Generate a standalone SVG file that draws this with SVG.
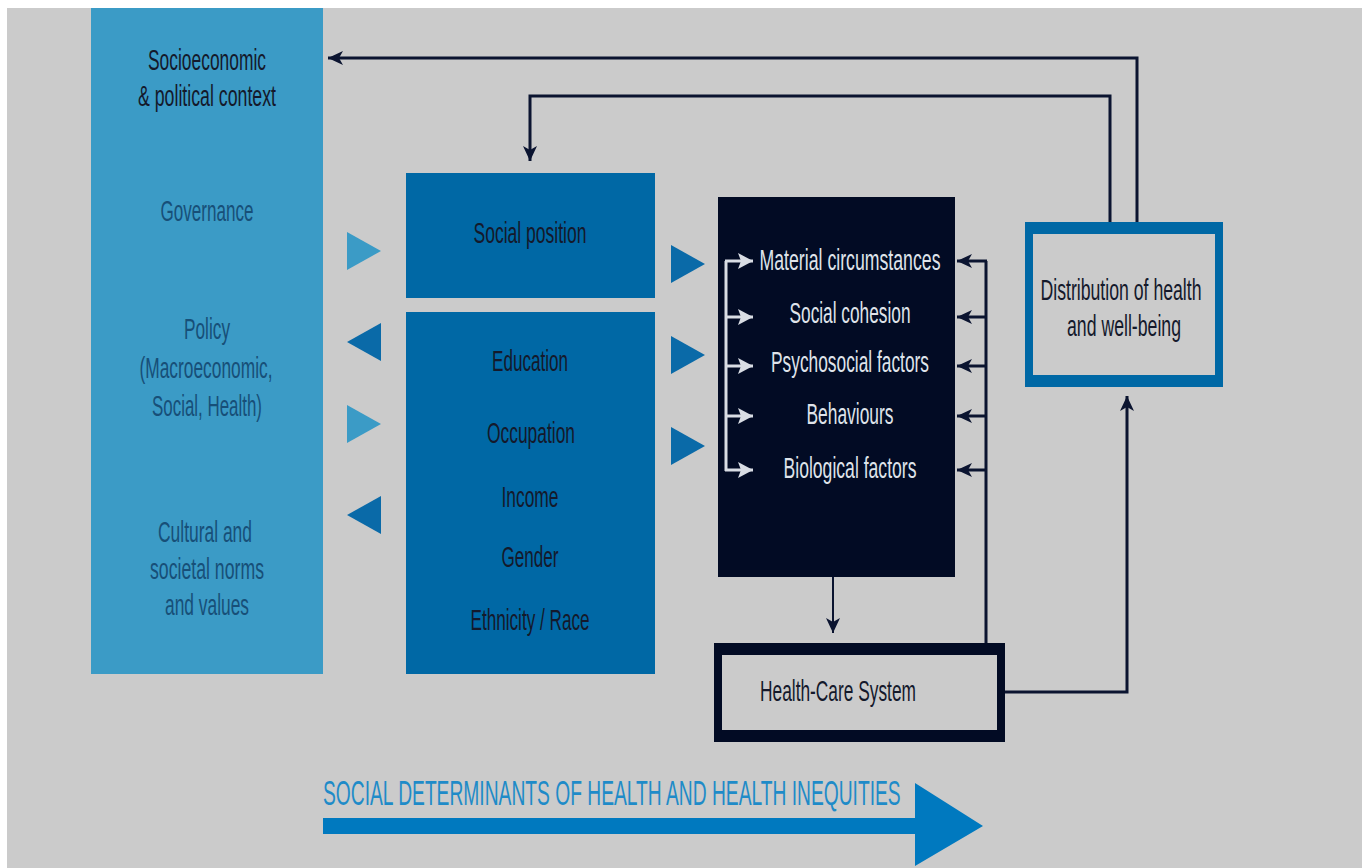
<svg xmlns="http://www.w3.org/2000/svg" width="1362" height="868" viewBox="0 0 1362 868">
<defs>
<style>
text{font-family:"Liberation Sans",Arial,sans-serif;font-size:29px;text-anchor:middle}
.dk{fill:#14192b}
.gv{fill:#174f78}
.wt{fill:#dfe3ea}
.title{fill:#1f8bc8;font-size:35px;text-anchor:start}
.ln{fill:none;stroke:#0b1430;stroke-width:3}
.lnw{fill:none;stroke:#d9dde4;stroke-width:3}
.tl{fill:#3b9bc6}
.td{fill:#0a6aa8}
</style>
<marker id="ad" markerUnits="userSpaceOnUse" markerWidth="16" markerHeight="14" refX="15" refY="7" orient="auto">
<path d="M0,0 L15,7 L0,14 L4,7 z" fill="#0b1430"/>
</marker>
<marker id="aw" markerUnits="userSpaceOnUse" markerWidth="16" markerHeight="16" refX="15" refY="8" orient="auto">
<path d="M0,0 L15,8 L0,16 L3,8 z" fill="#d9dde4"/>
</marker>
</defs>
<rect x="0" y="0" width="1362" height="868" fill="#ffffff"/>
<rect x="7" y="8" width="1355" height="860" fill="#cbcbcb"/>

<g id="context">
<rect x="91" y="8" width="232" height="666" fill="#3b9bc6"/>
<text class="dk" x="207" y="70" textLength="118" lengthAdjust="spacingAndGlyphs">Socioeconomic</text>
<text class="dk" x="207" y="106" textLength="138" lengthAdjust="spacingAndGlyphs">&amp; political context</text>
<text class="gv" x="207" y="221" textLength="93" lengthAdjust="spacingAndGlyphs">Governance</text>
<text class="gv" x="207" y="339" textLength="46" lengthAdjust="spacingAndGlyphs">Policy</text>
<text class="gv" x="206" y="378" textLength="133" lengthAdjust="spacingAndGlyphs">(Macroeconomic,</text>
<text class="gv" x="207" y="416" textLength="110" lengthAdjust="spacingAndGlyphs">Social, Health)</text>
<text class="gv" x="205" y="542" textLength="94" lengthAdjust="spacingAndGlyphs">Cultural and</text>
<text class="gv" x="207" y="579" textLength="114" lengthAdjust="spacingAndGlyphs">societal norms</text>
<text class="gv" x="207" y="615" textLength="84" lengthAdjust="spacingAndGlyphs">and values</text>
</g>

<g id="social-position">
<rect x="406" y="173" width="249" height="125" fill="#0068a5"/>
<text class="dk" x="530" y="243" textLength="113" lengthAdjust="spacingAndGlyphs">Social position</text>
</g>

<g id="stratifiers">
<rect x="406" y="312" width="249" height="362" fill="#0068a5"/>
<text class="dk" x="530" y="371" textLength="76" lengthAdjust="spacingAndGlyphs">Education</text>
<text class="dk" x="531" y="443" textLength="88" lengthAdjust="spacingAndGlyphs">Occupation</text>
<text class="dk" x="530" y="507" textLength="57" lengthAdjust="spacingAndGlyphs">Income</text>
<text class="dk" x="530" y="567" textLength="57" lengthAdjust="spacingAndGlyphs">Gender</text>
<text class="dk" x="530" y="630" textLength="119" lengthAdjust="spacingAndGlyphs">Ethnicity / Race</text>
</g>

<g id="intermediary">
<rect x="718" y="197" width="237" height="380" fill="#020b24"/>
<text class="wt" x="850" y="270" textLength="181" lengthAdjust="spacingAndGlyphs">Material circumstances</text>
<text class="wt" x="850" y="323" textLength="121" lengthAdjust="spacingAndGlyphs">Social cohesion</text>
<text class="wt" x="850" y="372" textLength="158" lengthAdjust="spacingAndGlyphs">Psychosocial factors</text>
<text class="wt" x="850" y="424" textLength="87" lengthAdjust="spacingAndGlyphs">Behaviours</text>
<text class="wt" x="850" y="478" textLength="133" lengthAdjust="spacingAndGlyphs">Biological factors</text>
</g>

<g id="distribution">
<rect x="1025" y="222" width="198" height="165" fill="#0068a5"/>
<rect x="1033" y="234" width="182" height="141" fill="#cbcbcb"/>
<text class="dk" x="1121" y="300" textLength="161" lengthAdjust="spacingAndGlyphs">Distribution of health</text>
<text class="dk" x="1124" y="336" textLength="114" lengthAdjust="spacingAndGlyphs">and well-being</text>
</g>

<g id="health-care">
<rect x="714" y="643" width="291" height="99" fill="#020b24"/>
<rect x="722" y="655" width="275" height="75" fill="#cbcbcb"/>
<text class="dk" x="838" y="701" textLength="156" lengthAdjust="spacingAndGlyphs">Health-Care System</text>
</g>

<g id="title">
<text class="title" transform="translate(323,805) scale(0.545,1)" x="0" y="0" textLength="1060" lengthAdjust="spacingAndGlyphs">SOCIAL DETERMINANTS OF HEALTH AND HEALTH INEQUITIES</text>
<path d="M323,818 H915 V783 L983,826 L915,866 V834 H323 z" fill="#0079bf"/>
</g>

<g id="connectors">
<path class="ln" d="M1137,222 V58 H328" marker-end="url(#ad)"/>
<path class="ln" d="M1110,222 V96 H530 V161" marker-end="url(#ad)"/>
<path class="ln" d="M1005,692 H1127 V396" marker-end="url(#ad)"/>
<path class="ln" style="stroke-width:2" d="M833,577 V633" marker-end="url(#ad)"/>
<path class="ln" d="M986,643 V261"/>
<path class="ln" d="M987,261 H957" marker-end="url(#ad)"/>
<path class="ln" d="M987,317 H957" marker-end="url(#ad)"/>
<path class="ln" d="M987,366 H957" marker-end="url(#ad)"/>
<path class="ln" d="M987,416 H957" marker-end="url(#ad)"/>
<path class="ln" d="M987,470 H957" marker-end="url(#ad)"/>
<path class="lnw" d="M726,261 V471"/>
<path class="lnw" d="M725,261 H753" marker-end="url(#aw)"/>
<path class="lnw" d="M725,317 H753" marker-end="url(#aw)"/>
<path class="lnw" d="M725,366 H753" marker-end="url(#aw)"/>
<path class="lnw" d="M725,416 H753" marker-end="url(#aw)"/>
<path class="lnw" d="M725,470 H753" marker-end="url(#aw)"/>
<polygon class="tl" points="347,232 381,251 347,270"/>
<polygon class="td" points="381,323 347,342 381,361"/>
<polygon class="tl" points="347,405 381,424 347,443"/>
<polygon class="td" points="381,496 347,515 381,534"/>
<polygon class="td" points="671,245 705,264 671,283"/>
<polygon class="td" points="671,336 705,355 671,374"/>
<polygon class="td" points="671,427 705,446 671,465"/>
</g>
</svg>
